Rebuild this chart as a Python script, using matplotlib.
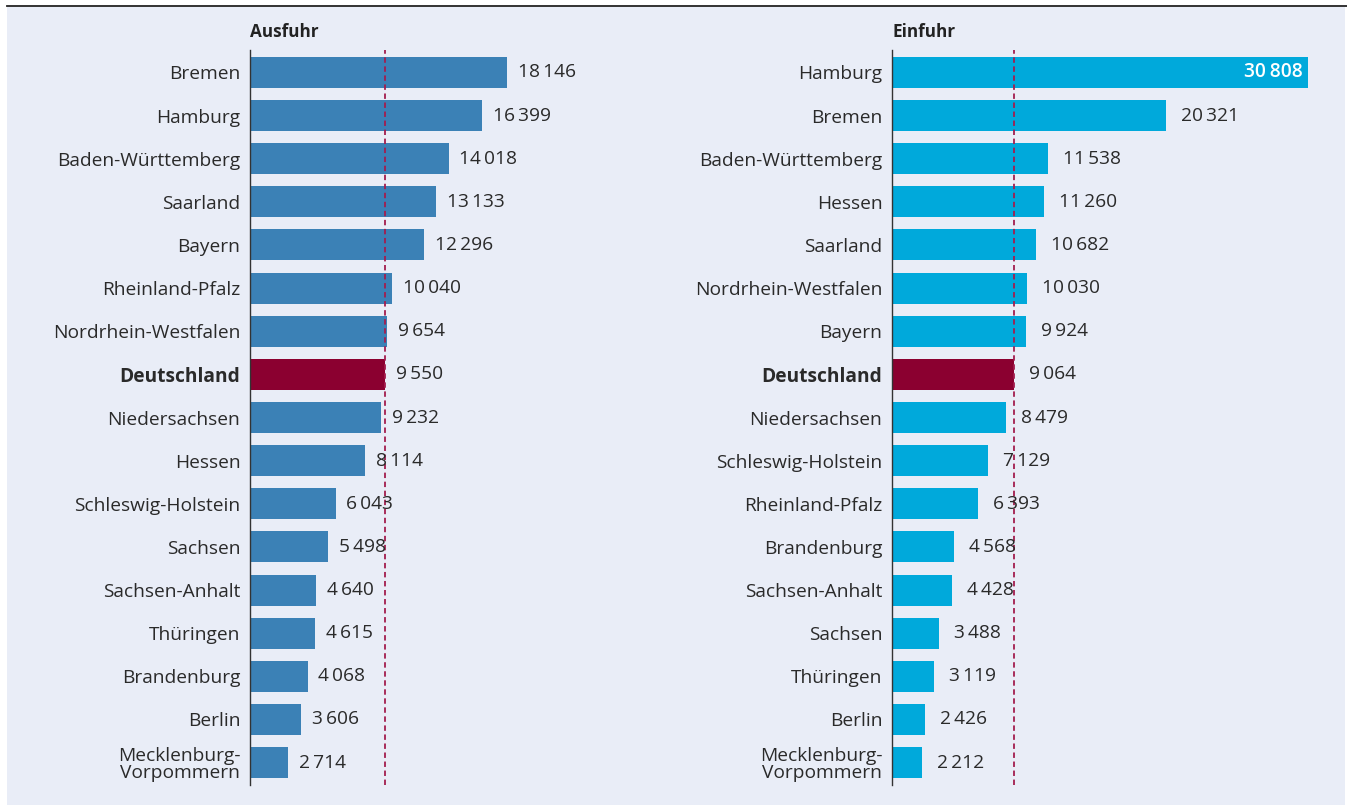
import matplotlib
matplotlib.use("Agg")
import matplotlib.pyplot as plt
from matplotlib.patches import Rectangle
from matplotlib.lines import Line2D

plt.rcParams['font.family'] = ['Open Sans', 'DejaVu Sans']

aus_labels = ["Bremen", "Hamburg", "Baden-Württemberg", "Saarland", "Bayern",
              "Rheinland-Pfalz", "Nordrhein-Westfalen", "Deutschland", "Niedersachsen",
              "Hessen", "Schleswig-Holstein", "Sachsen", "Sachsen-Anhalt", "Thüringen",
              "Brandenburg", "Berlin", "Mecklenburg-\nVorpommern"]
aus_values = [18146, 16399, 14018, 13133, 12296, 10040, 9654, 9550, 9232,
              8114, 6043, 5498, 4640, 4615, 4068, 3606, 2714]

ein_labels = ["Hamburg", "Bremen", "Baden-Württemberg", "Hessen", "Saarland",
              "Nordrhein-Westfalen", "Bayern", "Deutschland", "Niedersachsen",
              "Schleswig-Holstein", "Rheinland-Pfalz", "Brandenburg", "Sachsen-Anhalt",
              "Sachsen", "Thüringen", "Berlin", "Mecklenburg-\nVorpommern"]
ein_values = [30808, 20321, 11538, 11260, 10682, 10030, 9924, 9064, 8479,
              7129, 6393, 4568, 4428, 3488, 3119, 2426, 2212]

W, H = 1347, 805
fig = plt.figure(figsize=(W / 100, H / 100), dpi=100)
fig.patch.set_facecolor("white")
fig.patches.append(Rectangle((7 / W, 0), (1345 - 7) / W, (H - 7) / H,
                             transform=fig.transFigure, facecolor="#E9EDF7",
                             edgecolor="none", zorder=-5))
fig.lines.append(Line2D([7 / W, 1], [1 - 6 / H, 1 - 6 / H], transform=fig.transFigure,
                        color="#222222", lw=1.3, zorder=-4))

TEXT = "#2a2a2a"
NAT = "#8B0030"
DASH = "#A31D4E"
FS = 13.8


def fmt(v):
    s = f"{v:,}".replace(",", "\u2009")
    return s


def panel(left_px, right_px, labels, values, color, title, xmax, inside_first=False):
    top_px, bot_px = 50, 785
    ax = fig.add_axes([left_px / W, 1 - bot_px / H, (right_px - left_px) / W,
                       (bot_px - top_px) / H])
    ax.set_facecolor("none")
    n = len(values)
    ys = list(range(n))
    cols = [NAT if l == "Deutschland" else color for l in labels]
    ax.barh(ys, values, height=0.72, color=cols, zorder=2)
    ax.set_ylim(n - 0.5 + 0.02, -0.5 - 0.02)
    ax.set_xlim(0, xmax)
    nat = values[labels.index("Deutschland")]
    ax.axvline(nat, color=DASH, lw=1.3, ls=(0, (3, 2)), zorder=3)
    for sp in ["top", "right", "bottom"]:
        ax.spines[sp].set_visible(False)
    ax.spines["left"].set_color("#333333")
    ax.spines["left"].set_linewidth(1.0)
    ax.set_xticks([])
    ax.set_yticks(ys)
    ax.set_yticklabels(labels, fontsize=FS, color=TEXT, linespacing=0.95)
    ax.tick_params(axis="y", length=0, pad=7)
    for t in ax.get_yticklabels():
        if t.get_text() == "Deutschland":
            t.set_fontweight("bold")
    for i, v in enumerate(values):
        if inside_first and i == 0:
            ax.text(v - xmax * 0.012, i, fmt(v), ha="right", va="center",
                    fontsize=FS, color="white", fontweight="semibold")
        else:
            ax.text(v + xmax * 0.035, i, fmt(v), ha="left", va="center",
                    fontsize=FS, color=TEXT)
    fig.text(left_px / W, 1 - 32 / H, title, ha="left", va="center",
             fontsize=12.3, fontweight="bold", color="#222222")
    return ax


panel(250, 560, aus_labels, aus_values, "#3B81B6", "Ausfuhr", 310 / (257 / 18146))
panel(892, 1320, ein_labels, ein_values, "#00A9DB", "Einfuhr", 428 / (416 / 30808),
      inside_first=True)

fig.savefig("out.png", dpi=100, facecolor=fig.get_facecolor())
